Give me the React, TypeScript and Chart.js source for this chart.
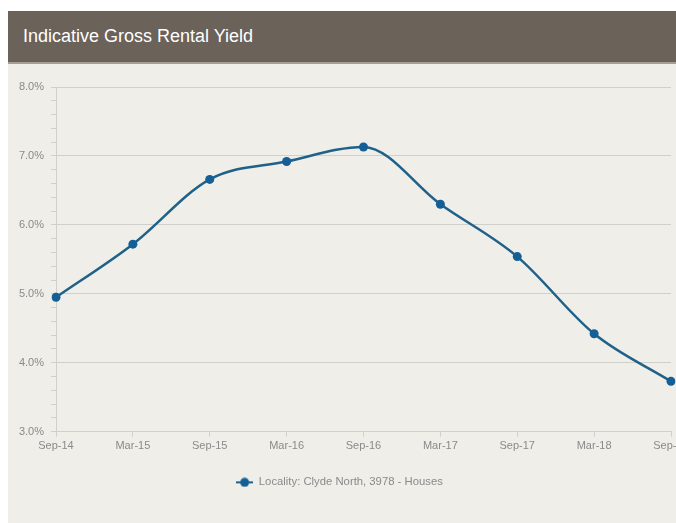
import React, { useEffect, useRef } from "react";
import { Chart, registerables } from "chart.js";

Chart.register(...registerables);

const categories = ["Sep-14", "Mar-15", "Sep-15", "Mar-16", "Sep-16", "Mar-17", "Sep-17", "Mar-18", "Sep-18"];
const yieldValues = [4.95, 5.72, 6.66, 6.92, 7.13, 6.3, 5.54, 4.42, 3.73];
const seriesLabel = "Locality: Clyde North, 3978 - Houses";
const chartTitle = "Indicative Gross Rental Yield";
const yMin = 3;
const yMax = 8;

const LINE = "#1f6189";
const POINT = "#145f95";
const TEXT = "#8a8a8a";
const GRID = "#cfcfcc";
const FONT = "'Liberation Sans', Arial, sans-serif";

function makeLegendMarker(): HTMLCanvasElement {
  const c = document.createElement("canvas");
  c.width = 17;
  c.height = 10;
  const g = c.getContext("2d")!;
  g.strokeStyle = LINE;
  g.lineWidth = 2;
  g.beginPath();
  g.moveTo(0, 5);
  g.lineTo(17, 5);
  g.stroke();
  g.fillStyle = POINT;
  g.beginPath();
  g.arc(8.5, 5, 4.5, 0, Math.PI * 2);
  g.fill();
  return c;
}

export default function App() {
  const ref = useRef<HTMLCanvasElement | null>(null);

  useEffect(() => {
    if (!ref.current) return;
    const marker = makeLegendMarker();
    const chart = new Chart(ref.current, {
      type: "line",
      data: {
        labels: categories,
        datasets: [
          {
            label: seriesLabel,
            data: yieldValues,
            borderColor: LINE,
            backgroundColor: POINT,
            pointBackgroundColor: POINT,
            pointBorderColor: POINT,
            borderWidth: 2.5,
            pointRadius: 4.5,
            pointBorderWidth: 0,
            cubicInterpolationMode: "monotone",
            fill: false,
            pointStyle: "circle",
          },
        ],
      },
      options: {
        animation: false,
        responsive: false,
        layout: { padding: { top: 23, right: 5, left: 0, bottom: 25 } },
        plugins: {
          tooltip: { enabled: false },
          legend: {
            position: "bottom",
            labels: {
              usePointStyle: true,
              pointStyle: marker as any,
              pointStyleWidth: 17,
              color: TEXT,
              font: { family: FONT, size: 11.3 },
              padding: 18,
              generateLabels: (ch: any) =>
                ch.data.datasets.map((ds: any, i: number) => ({
                  text: ds.label,
                  fillStyle: POINT,
                  strokeStyle: POINT,
                  pointStyle: marker,
                  lineWidth: 0,
                  fontColor: TEXT,
                  datasetIndex: i,
                  hidden: false,
                })),
            },
          },
        },
        scales: {
          x: {
            offset: false,
            grid: {
              display: true,
              drawOnChartArea: false,
              drawTicks: true,
              tickLength: 5,
              tickColor: GRID,
              color: GRID,
            },
            border: { display: true, color: GRID, width: 1 },
            ticks: {
              color: TEXT,
              font: { family: FONT, size: 11 },
              maxRotation: 0,
              autoSkip: false,
              padding: 3,
            },
            afterFit: (s: any) => {
              s.paddingLeft = 0;
              s.paddingRight = 0;
              s.height = 27;
            },
          },
          y: {
            min: yMin,
            max: yMax,
            grid: {
              color: (ctx: any) => {
                const v = ctx.tick ? ctx.tick.value : 0;
                return Math.abs(v - Math.round(v)) < 1e-6 ? GRID : "rgba(0,0,0,0)";
              },
              tickColor: GRID,
              tickLength: 5,
              drawTicks: true,
            },
            border: { display: true, color: GRID, width: 1 },
            ticks: {
              stepSize: 0.2,
              autoSkip: false,
              color: TEXT,
              font: { family: FONT, size: 11 },
              padding: 7,
              callback: (v: any) => {
                const n = Number(v);
                return Math.abs(n - Math.round(n)) < 1e-6 ? n.toFixed(1) + "%" : "";
              },
            },
            afterFit: (s: any) => {
              s.width = 48;
              s.paddingTop = 0;
              s.paddingBottom = 0;
            },
          },
        },
      },
    });
    return () => chart.destroy();
  }, []);

  return (
    <div style={{ position: "absolute", left: 8, top: 11, width: 668, height: 512, background: "#efeee9" }}>
      <div
        style={{
          height: 51,
          background: "#6b6259",
          color: "#ffffff",
          fontFamily: FONT,
          fontSize: 18,
          lineHeight: "51px",
          paddingLeft: 15,
          borderBottom: "2px solid #a39e97",
          boxSizing: "content-box",
        }}
      >
        {chartTitle}
      </div>
      <canvas ref={ref} width={668} height={459} style={{ display: "block" }} />
    </div>
  );
}
